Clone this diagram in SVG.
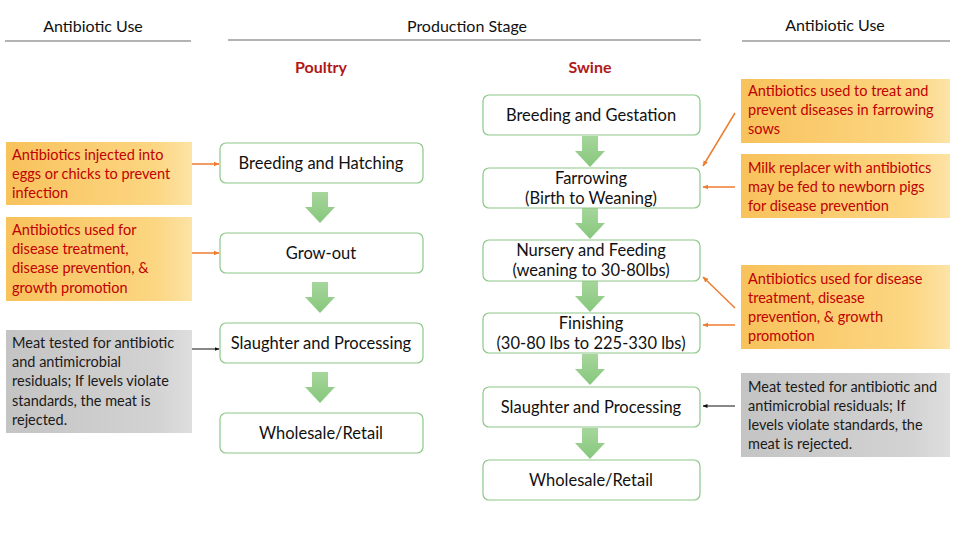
<svg xmlns="http://www.w3.org/2000/svg" width="960" height="540" viewBox="0 0 960 540">
<defs>
<linearGradient id="gOr" x1="0" y1="0" x2="1" y2="0">
<stop offset="0" stop-color="#f8c25c"/>
<stop offset="0.8" stop-color="#fcd682"/>
<stop offset="1" stop-color="#fde3a6"/>
</linearGradient>
<linearGradient id="gGr" x1="0" y1="0" x2="1" y2="0">
<stop offset="0" stop-color="#c4c4c4"/>
<stop offset="0.8" stop-color="#d2d2d2"/>
<stop offset="1" stop-color="#dedede"/>
</linearGradient>
<linearGradient id="gAr" x1="0" y1="0" x2="0" y2="1">
<stop offset="0" stop-color="#a6d69b"/>
<stop offset="1" stop-color="#86c77c"/>
</linearGradient>
<marker id="mO" viewBox="0 0 10 10" refX="9" refY="5" markerWidth="6" markerHeight="6" orient="auto" markerUnits="userSpaceOnUse">
<path d="M0,1 L10,5 L0,9 z" fill="#ed7d31"/>
</marker>
<marker id="mK" viewBox="0 0 10 10" refX="9" refY="5" markerWidth="5" markerHeight="5" orient="auto" markerUnits="userSpaceOnUse">
<path d="M0,1 L10,5 L0,9 z" fill="#111"/>
</marker>
<path id="blk" d="M-8,0 H8 V15 H15 L0,31 L-15,15 H-8 Z"/>
</defs>
<style>
text{font-family:Lato,"Open Sans","Liberation Sans",sans-serif}
.hd{font-size:16px;fill:#111;text-anchor:middle}
.hl{stroke:#9a9a9a;stroke-width:1.5;fill:none}
.sp{font-size:16px;font-weight:bold;fill:#b01818;text-anchor:middle}
.box{fill:#fff;stroke:#8cc887;stroke-width:1.2}
.bt{font-size:16.5px;fill:#111;text-anchor:middle}
.on{fill:url(#gOr)}
.gn{fill:url(#gGr)}
.ot{font-size:14.5px;fill:#c00000}
.gt{font-size:14.5px;fill:#1a1a1a}
.ao{stroke:#ed7d31;stroke-width:1.5;fill:none;marker-end:url(#mO)}
.ak{stroke:#111;stroke-width:1;fill:none;marker-end:url(#mK)}
.ba{fill:url(#gAr)}
</style>
<rect width="960" height="540" fill="#fff"/>

<g id="headers">
<text class="hd" x="93" y="32">Antibiotic Use</text>
<line class="hl" x1="5" y1="41" x2="191" y2="41"/>
<text class="hd" x="467" y="32">Production Stage</text>
<line class="hl" x1="228" y1="40" x2="701" y2="40"/>
<text class="hd" x="835" y="31">Antibiotic Use</text>
<line class="hl" x1="742" y1="41" x2="950" y2="41"/>
<text class="sp" x="321" y="73">Poultry</text>
<text class="sp" x="590" y="73">Swine</text>
</g>

<g id="block-arrows">
<use href="#blk" class="ba" x="320" y="192"/>
<use href="#blk" class="ba" x="320" y="282"/>
<use href="#blk" class="ba" x="320" y="372"/>
<use href="#blk" class="ba" x="590" y="136"/>
<use href="#blk" class="ba" x="590" y="208"/>
<use href="#blk" class="ba" x="590" y="281"/>
<use href="#blk" class="ba" x="590" y="354"/>
<use href="#blk" class="ba" x="590" y="428"/>
</g>

<g id="poultry-breeding"><rect class="box" x="220" y="143" width="203" height="40" rx="6"/><text class="bt" x="321" y="169">Breeding and Hatching</text></g>
<g id="poultry-growout"><rect class="box" x="220" y="233" width="203" height="40" rx="6"/><text class="bt" x="321" y="259">Grow-out</text></g>
<g id="poultry-slaughter"><rect class="box" x="220" y="323" width="203" height="40" rx="6"/><text class="bt" x="321" y="349">Slaughter and Processing</text></g>
<g id="poultry-retail"><rect class="box" x="220" y="413" width="203" height="40" rx="6"/><text class="bt" x="321" y="439">Wholesale/Retail</text></g>

<g id="swine-breeding"><rect class="box" x="483" y="95" width="217" height="40" rx="6"/><text class="bt" x="591" y="121">Breeding and Gestation</text></g>
<g id="swine-farrowing"><rect class="box" x="483" y="168" width="217" height="40" rx="6"/><text class="bt" x="591" y="184">Farrowing</text><text class="bt" x="591" y="204">(Birth to Weaning)</text></g>
<g id="swine-nursery"><rect class="box" x="483" y="240" width="217" height="41" rx="6"/><text class="bt" x="591" y="256">Nursery and Feeding</text><text class="bt" x="591" y="276">(weaning to 30-80lbs)</text></g>
<g id="swine-finishing"><rect class="box" x="483" y="313" width="217" height="40" rx="6"/><text class="bt" x="591" y="329">Finishing</text><text class="bt" x="591" y="349">(30-80 lbs to 225-330 lbs)</text></g>
<g id="swine-slaughter"><rect class="box" x="483" y="387" width="217" height="40" rx="6"/><text class="bt" x="591" y="413">Slaughter and Processing</text></g>
<g id="swine-retail"><rect class="box" x="483" y="460" width="217" height="40" rx="6"/><text class="bt" x="591" y="486">Wholesale/Retail</text></g>

<g id="note-l1"><rect class="on" x="6" y="142" width="186" height="63"/>
<text class="ot" x="12" y="160">Antibiotics injected into</text>
<text class="ot" x="12" y="179">eggs or chicks to prevent</text>
<text class="ot" x="12" y="198">infection</text></g>
<g id="note-l2"><rect class="on" x="6" y="217" width="186" height="84"/>
<text class="ot" x="12" y="235">Antibiotics used for</text>
<text class="ot" x="12" y="254">disease treatment,</text>
<text class="ot" x="12" y="273">disease prevention, &amp;</text>
<text class="ot" x="12" y="293">growth promotion</text></g>
<g id="note-l3"><rect class="gn" x="6" y="330" width="186" height="103"/>
<text class="gt" x="12" y="348">Meat tested for antibiotic</text>
<text class="gt" x="12" y="367">and antimicrobial</text>
<text class="gt" x="12" y="386">residuals; If levels violate</text>
<text class="gt" x="12" y="406">standards, the meat is</text>
<text class="gt" x="12" y="425">rejected.</text></g>

<g id="note-r1"><rect class="on" x="741" y="79" width="209" height="64"/>
<text class="ot" x="748" y="96">Antibiotics used to treat and</text>
<text class="ot" x="748" y="115">prevent diseases in farrowing</text>
<text class="ot" x="748" y="134">sows</text></g>
<g id="note-r2"><rect class="on" x="741" y="154" width="209" height="64"/>
<text class="ot" x="748" y="173">Milk replacer with antibiotics</text>
<text class="ot" x="748" y="192">may be fed to newborn pigs</text>
<text class="ot" x="748" y="211">for disease prevention</text></g>
<g id="note-r3"><rect class="on" x="741" y="265" width="209" height="84"/>
<text class="ot" x="748" y="284">Antibiotics used for disease</text>
<text class="ot" x="748" y="303">treatment, disease</text>
<text class="ot" x="748" y="322">prevention, &amp; growth</text>
<text class="ot" x="748" y="341">promotion</text></g>
<g id="note-r4"><rect class="gn" x="741" y="373" width="209" height="84"/>
<text class="gt" x="748" y="392">Meat tested for antibiotic and</text>
<text class="gt" x="748" y="411">antimicrobial residuals; If</text>
<text class="gt" x="748" y="430">levels violate standards, the</text>
<text class="gt" x="748" y="449">meat is rejected.</text></g>

<g id="connectors">
<line class="ao" x1="192" y1="164" x2="219" y2="164"/>
<line class="ao" x1="192" y1="253" x2="219" y2="253"/>
<line class="ak" x1="192" y1="349" x2="219" y2="349"/>
<line class="ao" x1="735" y1="113" x2="703" y2="166"/>
<line class="ao" x1="735" y1="187" x2="703" y2="187"/>
<line class="ao" x1="735" y1="308" x2="703" y2="277"/>
<line class="ao" x1="735" y1="325" x2="703" y2="325"/>
<line class="ak" x1="735" y1="406" x2="703" y2="406"/>
</g>
</svg>
